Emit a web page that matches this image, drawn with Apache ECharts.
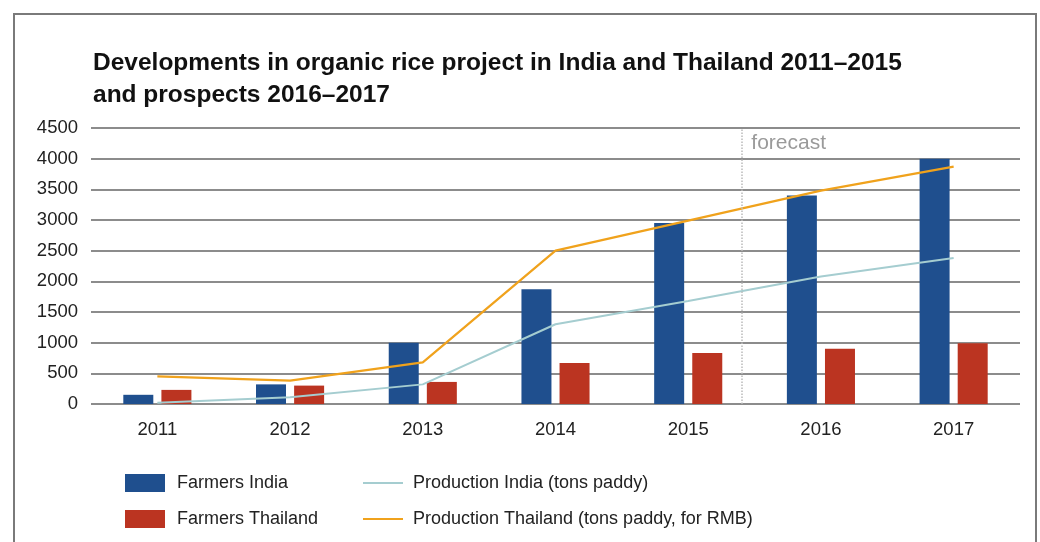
<!DOCTYPE html>
<html>
<head>
<meta charset="utf-8">
<script src="https://cdn.jsdelivr.net/npm/echarts@6/dist/echarts.min.js"></script>
<style>
html,body{margin:0;padding:0;background:#fff;}
#chart{width:1040px;height:542px;}
</style>
</head>
<body>
<div id="chart"></div>
<script>
const years = ['2011', '2012', '2013', '2014', '2015', '2016', '2017'];
const farmersIndia = [150, 320, 1000, 1870, 2950, 3400, 4000];
const farmersThailand = [230, 300, 360, 670, 830, 900, 990];
const productionIndia = [20, 110, 320, 1300, 1680, 2080, 2380];
const productionThailand = [450, 380, 680, 2500, 2990, 3480, 3870];
const forecastStart = 4.4; // position between 2015 and 2016 (category index units)
const yTicks = { min: 0, max: 4500, interval: 500 };

const FONT = "'Liberation Sans', Arial, Helvetica, sans-serif";
const chart = echarts.init(document.getElementById('chart'), null, { renderer: 'canvas' });

chart.setOption({
  backgroundColor: '#ffffff',
  animation: false,
  textStyle: { fontFamily: FONT },
  title: {
    text: 'Developments in organic rice project in India and Thailand 2011\u20132015\nand prospects 2016\u20132017',
    left: 88,
    top: 42,
    textStyle: { fontFamily: FONT, fontSize: 24.5, fontWeight: 'bold', color: '#111', lineHeight: 32 }
  },
  graphic: [{
    type: 'rect',
    shape: { x: 14, y: 14, width: 1022, height: 560 },
    style: { fill: 'none', stroke: '#7a7a7a', lineWidth: 2 },
    silent: true
  }],
  legend: [{
    data: ['Farmers India', 'Farmers Thailand'],
    orient: 'vertical',
    left: 120,
    top: 469,
    itemWidth: 40,
    itemHeight: 18,
    itemGap: 18,
    icon: 'rect',
    textStyle: { fontFamily: FONT, fontSize: 18, color: '#222', lineHeight: 18, padding: [0, 0, 0, 7] }
  }, {
    data: ['Production India (tons paddy)', 'Production Thailand (tons paddy, for RMB)'],
    orient: 'vertical',
    left: 357,
    top: 469,
    itemWidth: 40,
    itemHeight: 18,
    itemGap: 18,
    itemStyle: { opacity: 0 },
    textStyle: { fontFamily: FONT, fontSize: 18, color: '#222', lineHeight: 18, padding: [0, 0, 0, 5] }
  }],
  grid: { left: 91, right: 20, top: 128, bottom: 138, containLabel: false },
  xAxis: [{
    type: 'category',
    data: years,
    axisLine: { show: false },
    axisTick: { show: false },
    axisLabel: { fontFamily: FONT, fontSize: 18.5, color: '#222', margin: 16 }
  }, {
    type: 'value',
    min: -0.5,
    max: 6.5,
    show: false
  }],
  yAxis: {
    type: 'value',
    min: yTicks.min,
    max: yTicks.max,
    interval: yTicks.interval,
    axisLine: { show: false },
    axisTick: { show: false },
    axisLabel: { fontFamily: FONT, fontSize: 18.5, color: '#222', margin: 13, formatter: function (v) { return String(v); } },
    splitLine: { lineStyle: { color: '#666', width: 1.5 } }
  },
  series: [{
    name: 'Farmers India',
    type: 'bar',
    data: farmersIndia,
    barWidth: 30,
    barGap: '27%',
    itemStyle: { color: '#1f4f8e' }
  }, {
    name: 'Farmers Thailand',
    type: 'bar',
    data: farmersThailand,
    barWidth: 30,
    barGap: '27%',
    itemStyle: { color: '#bb3421' }
  }, {
    name: 'Production India (tons paddy)',
    type: 'line',
    data: productionIndia,
    symbol: 'none',
    lineStyle: { color: '#a5cdd0', width: 2 },
    itemStyle: { color: '#a5cdd0' },
    z: 3
  }, {
    name: 'Production Thailand (tons paddy, for RMB)',
    type: 'line',
    data: productionThailand,
    symbol: 'none',
    lineStyle: { color: '#f0a21c', width: 2.2 },
    itemStyle: { color: '#f0a21c' },
    z: 4
  }, {
    type: 'line',
    xAxisIndex: 1,
    data: [],
    markLine: {
      silent: true,
      symbol: ['none', 'none'],
      lineStyle: { type: 'dotted', color: '#bbbbbb', width: 1.5 },
      label: {
        show: true,
        position: 'end',
        formatter: 'forecast',
        align: 'left',
        fontFamily: FONT,
        fontSize: 21,
        color: '#9a9a9a',
        offset: [10, 31]
      },
      data: [{ xAxis: forecastStart }]
    }
  }]
});
</script>
</body>
</html>
